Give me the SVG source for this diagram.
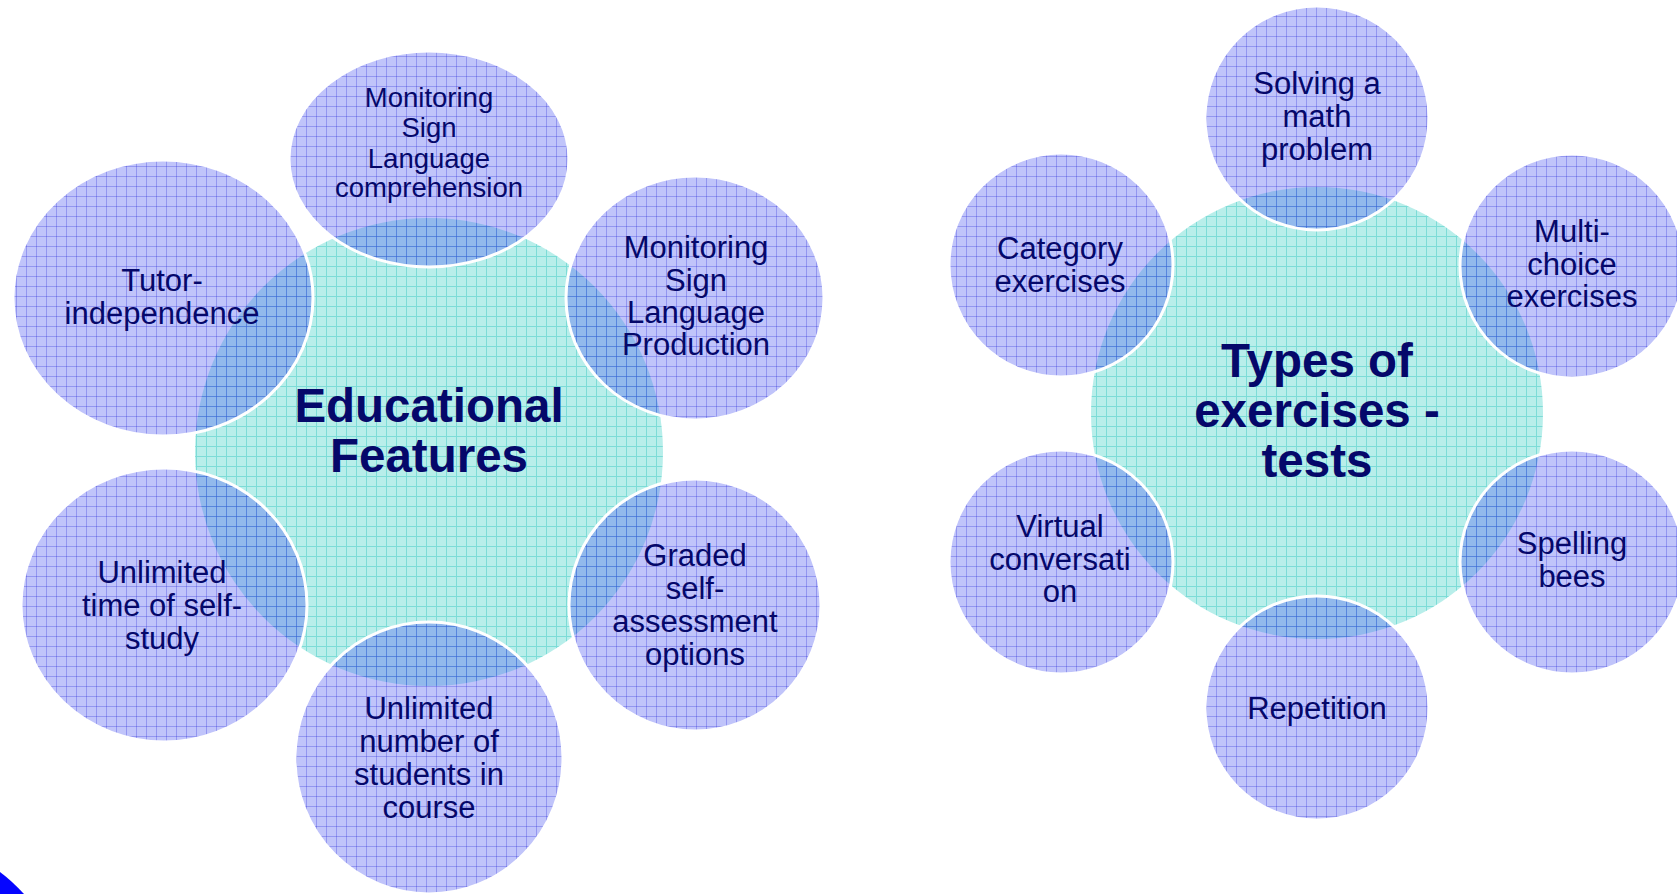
<svg xmlns="http://www.w3.org/2000/svg" width="1677" height="894" viewBox="0 0 1677 894">
  <defs>
    <!-- squared-paper fill for the two hub circles -->
    <pattern id="gridCyan" patternUnits="userSpaceOnUse" x="6" y="6" width="10" height="10">
      <rect width="10" height="10" fill="#b8eeea"/>
      <path d="M0 0.5H10M0.5 0V10" stroke="#7cdcd7" stroke-width="1" fill="none"/>
    </pattern>
    <!-- translucent grid lines laid over the satellite tint -->
    <pattern id="gridBlue" patternUnits="userSpaceOnUse" x="6" y="6" width="10" height="10">
      <path d="M0 0.5H10M0.5 0V10" stroke="#2a2ad8" stroke-opacity="0.3" stroke-width="1" fill="none"/>
    </pattern>
  </defs>
  <style>
    .hub { fill: url(#gridCyan); }
    .tint { fill: #4a56f0; fill-opacity: 0.35; }
    .lines { fill: url(#gridBlue); }
    .rim { fill: none; stroke: #ffffff; stroke-width: 3; }
    text { font-family: "Liberation Sans", Arial, sans-serif; fill: #05086a; text-anchor: middle; }
    .lbl { font-size: 31px; }
    .lbl-sm { font-size: 27.5px; }
    .title { font-size: 47.5px; font-weight: bold; }
  </style>

  <rect width="1677" height="894" fill="#ffffff"/>

  <!-- ===== left cluster ===== -->
  <g id="educational-features">
    <circle class="hub" cx="429" cy="452" r="234"/>
  </g>
  <g id="tutor-independence">
    <ellipse class="tint" cx="163" cy="298" rx="150" ry="138"/>
    <ellipse class="lines" cx="163" cy="298" rx="150" ry="138"/>
    <ellipse class="rim" cx="163" cy="298" rx="150" ry="138"/>
    <text class="lbl" x="162" y="291">Tutor-</text>
    <text class="lbl" x="162" y="324">independence</text>
  </g>
  <g id="monitoring-comprehension">
    <ellipse class="tint" cx="429" cy="159" rx="140" ry="108"/>
    <ellipse class="lines" cx="429" cy="159" rx="140" ry="108"/>
    <ellipse class="rim" cx="429" cy="159" rx="140" ry="108"/>
    <text class="lbl-sm" x="429" y="107">Monitoring</text>
    <text class="lbl-sm" x="429" y="137">Sign</text>
    <text class="lbl-sm" x="429" y="168">Language</text>
    <text class="lbl-sm" x="429" y="197">comprehension</text>
  </g>
  <g id="monitoring-production">
    <ellipse class="tint" cx="695" cy="298" rx="129" ry="122"/>
    <ellipse class="lines" cx="695" cy="298" rx="129" ry="122"/>
    <ellipse class="rim" cx="695" cy="298" rx="129" ry="122"/>
    <text class="lbl" x="696" y="258">Monitoring</text>
    <text class="lbl" x="696" y="291">Sign</text>
    <text class="lbl" x="696" y="323">Language</text>
    <text class="lbl" x="696" y="355">Production</text>
  </g>
  <g id="graded-self-assessment">
    <ellipse class="tint" cx="695" cy="605" rx="126" ry="126"/>
    <ellipse class="lines" cx="695" cy="605" rx="126" ry="126"/>
    <ellipse class="rim" cx="695" cy="605" rx="126" ry="126"/>
    <text class="lbl" x="695" y="566">Graded</text>
    <text class="lbl" x="695" y="599">self-</text>
    <text class="lbl" x="695" y="632">assessment</text>
    <text class="lbl" x="695" y="665">options</text>
  </g>
  <g id="unlimited-students">
    <ellipse class="tint" cx="429" cy="758" rx="134" ry="136"/>
    <ellipse class="lines" cx="429" cy="758" rx="134" ry="136"/>
    <ellipse class="rim" cx="429" cy="758" rx="134" ry="136"/>
    <text class="lbl" x="429" y="719">Unlimited</text>
    <text class="lbl" x="429" y="752">number of</text>
    <text class="lbl" x="429" y="785">students in</text>
    <text class="lbl" x="429" y="818">course</text>
  </g>
  <g id="unlimited-time">
    <ellipse class="tint" cx="164" cy="605" rx="143" ry="137"/>
    <ellipse class="lines" cx="164" cy="605" rx="143" ry="137"/>
    <ellipse class="rim" cx="164" cy="605" rx="143" ry="137"/>
    <text class="lbl" x="162" y="583">Unlimited</text>
    <text class="lbl" x="162" y="616">time of self-</text>
    <text class="lbl" x="162" y="649">study</text>
  </g>
  <g id="educational-features-label">
    <text class="title" x="429" y="422">Educational</text>
    <text class="title" x="429" y="472">Features</text>
  </g>

  <!-- ===== right cluster ===== -->
  <g id="types-of-exercises">
    <circle class="hub" cx="1317" cy="413" r="226"/>
  </g>
  <g id="solving-math">
    <circle class="tint" cx="1317" cy="118" r="112"/>
    <circle class="lines" cx="1317" cy="118" r="112"/>
    <circle class="rim" cx="1317" cy="118" r="112"/>
    <text class="lbl" x="1317" y="94">Solving a</text>
    <text class="lbl" x="1317" y="127">math</text>
    <text class="lbl" x="1317" y="160">problem</text>
  </g>
  <g id="category-exercises">
    <circle class="tint" cx="1061" cy="265" r="112"/>
    <circle class="lines" cx="1061" cy="265" r="112"/>
    <circle class="rim" cx="1061" cy="265" r="112"/>
    <text class="lbl" x="1060" y="259">Category</text>
    <text class="lbl" x="1060" y="292">exercises</text>
  </g>
  <g id="multi-choice">
    <circle class="tint" cx="1572" cy="266" r="112"/>
    <circle class="lines" cx="1572" cy="266" r="112"/>
    <circle class="rim" cx="1572" cy="266" r="112"/>
    <text class="lbl" x="1572" y="242">Multi-</text>
    <text class="lbl" x="1572" y="275">choice</text>
    <text class="lbl" x="1572" y="307">exercises</text>
  </g>
  <g id="virtual-conversation">
    <circle class="tint" cx="1061" cy="562" r="112"/>
    <circle class="lines" cx="1061" cy="562" r="112"/>
    <circle class="rim" cx="1061" cy="562" r="112"/>
    <text class="lbl" x="1060" y="537">Virtual</text>
    <text class="lbl" x="1060" y="570">conversati</text>
    <text class="lbl" x="1060" y="602">on</text>
  </g>
  <g id="spelling-bees">
    <circle class="tint" cx="1572" cy="562" r="112"/>
    <circle class="lines" cx="1572" cy="562" r="112"/>
    <circle class="rim" cx="1572" cy="562" r="112"/>
    <text class="lbl" x="1572" y="554">Spelling</text>
    <text class="lbl" x="1572" y="587">bees</text>
  </g>
  <g id="repetition">
    <circle class="tint" cx="1317" cy="708" r="112"/>
    <circle class="lines" cx="1317" cy="708" r="112"/>
    <circle class="rim" cx="1317" cy="708" r="112"/>
    <text class="lbl" x="1317" y="719">Repetition</text>
  </g>
  <g id="types-of-exercises-label">
    <text class="title" x="1317" y="377">Types of</text>
    <text class="title" x="1317" y="427">exercises -</text>
    <text class="title" x="1317" y="477">tests</text>
  </g>

  <!-- corner swoosh -->
  <path d="M0 872 Q12 881 24 894 L0 894 Z" fill="#0505ff"/>
</svg>
